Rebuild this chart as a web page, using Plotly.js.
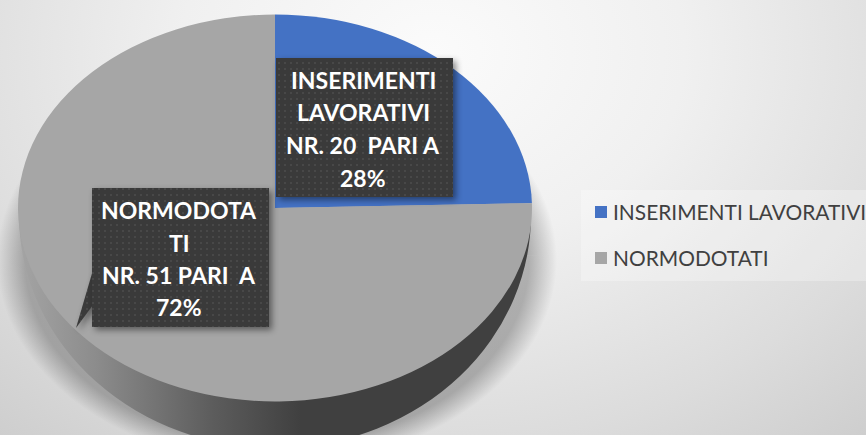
<!DOCTYPE html>
<html><head><meta charset="utf-8">
<script src="https://cdn.plot.ly/plotly-3.0.1.min.js"></script>
<style>
html,body{margin:0;padding:0;width:866px;height:435px;overflow:hidden}
body{background:radial-gradient(ellipse 720px 560px at 50% 12%,#fbfbfb 0%,#f0f0f0 35%,#dcdcdc 70%,#c8c8c8 100%)}
#chart{width:866px;height:435px}
</style></head><body><div id="chart"></div>
<script>
const categories=['INSERIMENTI LAVORATIVI','NORMODOTATI'];
// slice shares as drawn in the picture (read from the slice boundary)
const values=[24.6,75.4];
const colors=['#4472c4','#a6a6a6'];
const depthColors=['#404040','#404040'];
const shadowColors=['#b0b0b0','#b0b0b0'];
const label1=['INSERIMENTI','LAVORATIVI','NR. 20  PARI A','28%'];
const label2=['NORMODOTA','TI','NR. 51 PARI  A','72%'];

const W=866,H=435;
const px=x=>x/W, py=y=>1-y/H;
const dom={x:[0.1,0.9],y:[0.1,0.9]};
const ellipses=[
 {cx:277,cy:260,rx:280,ry:205},   // soft shadow
 {cx:275,cy:215,rx:256,ry:233},   // side wall
 {cx:275,cy:208,rx:257,ry:193.5}  // top surface
];

function lineAnn(t,cx,cy){return{text:t,x:px(cx),y:py(cy),xref:'paper',yref:'paper',xanchor:'center',yanchor:'middle',showarrow:false,
  font:{family:'Lato, "Open Sans", sans-serif',size:23,color:'#ffffff',weight:700}};}
const ys1=[80,112,145,178], ys2=[210,243,275,307];
const annotations=[...label1.map((t,i)=>lineAnn(t,363,ys1[i])),...label2.map((t,i)=>lineAnn(t,179,ys2[i]))];
const boxColor='#3a3a3a';
const shapes=[
 {type:'rect',xref:'paper',yref:'paper',x0:px(276),x1:px(453),y0:py(58),y1:py(197),fillcolor:boxColor,line:{width:0},layer:'above'},
 {type:'path',xref:'paper',yref:'paper',path:`M ${px(93)} ${py(270)} L ${px(76)} ${py(328)} L ${px(93)} ${py(305)} Z`,fillcolor:boxColor,line:{width:0},layer:'above'},
 {type:'rect',xref:'paper',yref:'paper',x0:px(92),x1:px(269),y0:py(188),y1:py(327),fillcolor:boxColor,line:{width:0},layer:'above'}
];
const base={type:'pie',labels:categories,values:values,sort:false,direction:'clockwise',rotation:0,textinfo:'none',hoverinfo:'none',domain:dom};
const data=[
 {...base,marker:{colors:shadowColors,line:{width:0}},showlegend:false},
 {...base,marker:{colors:depthColors,line:{width:0}},showlegend:false},
 {...base,marker:{colors:colors,line:{width:0}},showlegend:true}
];
const layout={width:W,height:H,margin:{l:0,r:0,t:0,b:0,autoexpand:false},paper_bgcolor:'rgba(0,0,0,0)',plot_bgcolor:'rgba(0,0,0,0)',
 shapes,annotations,
 legend:{x:px(581),y:py(190),xanchor:'left',yanchor:'top',bgcolor:'rgba(255,255,255,0.28)',borderwidth:0,
   entrywidth:220,entrywidthmode:'pixels',
   font:{family:'Lato, "Open Sans", sans-serif',size:20.9,color:'#404040'}}
};
Plotly.newPlot('chart',data,layout,{displayModeBar:false,staticPlot:true}).then(gd=>{
  const svg=gd.querySelector('.main-svg');
  const defs=svg.querySelector('defs');
  const traces=gd.querySelectorAll('.pielayer .trace');
  const rects=[...traces[2].querySelectorAll('.slice path')].map(p=>p.getBBox());
  const y0=Math.min(...rects.map(r=>r.y)),y1=Math.max(...rects.map(r=>r.y+r.height));
  const pcx=W*0.5, pcy=H*0.5, R=(y1-y0)/2;
  defs.insertAdjacentHTML('beforeend',`
   <linearGradient id="depthGrad" x1="0" x2="1" y1="0" y2="0">
    <stop offset="0" stop-color="#a4a4a4"/><stop offset="0.15" stop-color="#8c8c8c"/><stop offset="0.38" stop-color="#5c5c5c"/><stop offset="0.55" stop-color="#404040"/><stop offset="1" stop-color="#404040"/>
   </linearGradient>
   <radialGradient id="halo" gradientUnits="userSpaceOnUse" cx="${pcx}" cy="${pcy}" r="${R}">
    <stop offset="0.9" stop-color="#000" stop-opacity="0.26"/><stop offset="1" stop-color="#000" stop-opacity="0"/>
   </radialGradient>
   <clipPath id="lowerHalf"><rect x="${pcx-2*R}" y="${pcy}" width="${4*R}" height="${2*R}"/></clipPath>
   <pattern id="dots" width="6" height="6" patternUnits="userSpaceOnUse">
    <rect width="6" height="6" fill="#3a3a3a"/><circle cx="3" cy="3" r="1" fill="#4d4d4d"/>
   </pattern>`);
  traces.forEach((t,i)=>{
    const e=ellipses[i];
    t.setAttribute('transform',`translate(${e.cx},${e.cy}) scale(${e.rx/R},${e.ry/R}) translate(${-pcx},${-pcy})`);
  });
  traces[0].querySelectorAll('.slice path').forEach(p=>{p.style.fill='url(#halo)';});
  traces[1].querySelectorAll('.slice').forEach(s=>s.setAttribute('clip-path','url(#lowerHalf)'));
  traces[1].querySelectorAll('.slice path').forEach(p=>{p.style.fill='url(#depthGrad)';});
  gd.querySelectorAll('.layer-above .shapelayer path').forEach(p=>{
    p.style.fill='url(#dots)'; p.style.filter='drop-shadow(3px 3px 3px rgba(0,0,0,0.45))';});
  // legend geometry of the reference: 46px row pitch, tight swatch-to-text gap
  const leg=gd.querySelector('.legend');
  const sb=leg.querySelector('.scrollbox'); if(sb) sb.removeAttribute('clip-path');
  leg.removeAttribute('clip-path');
  const bg=leg.querySelector('.bg');
  bg.setAttribute('width',285); bg.setAttribute('height',91);
  leg.querySelectorAll('.traces').forEach((t,i)=>{
    t.setAttribute('transform',`translate(0,${22+i*46})`);
    const tx=t.querySelector('.legendtext'); tx.setAttribute('x',32);
    tx.querySelectorAll('tspan').forEach(s=>s.setAttribute('x',32));
  });
  leg.querySelectorAll('.legendtoggle').forEach(r=>r.remove());
});
</script></body></html>
